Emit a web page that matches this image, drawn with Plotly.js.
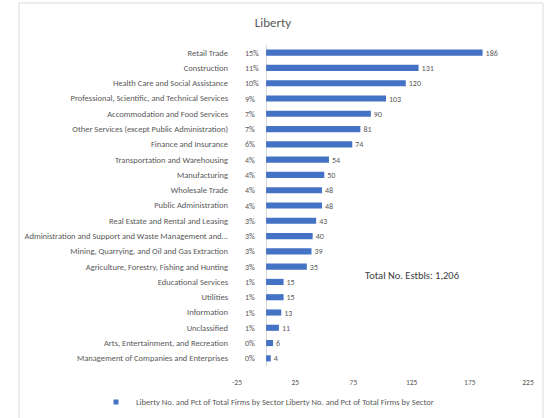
<!DOCTYPE html>
<html>
<head>
<meta charset="utf-8">
<script src="https://cdn.plot.ly/plotly-3.0.1.min.js"></script>
<style>html,body{margin:0;padding:0;background:#fff;}#chart{width:546px;height:418px;}</style>
</head>
<body>
<div id="chart"></div>
<script>
const chartTitle = "Liberty";
const sectors = [
  "Retail Trade",
  "Construction",
  "Health Care and Social Assistance",
  "Professional, Scientific, and Technical Services",
  "Accommodation and Food Services",
  "Other Services (except Public Administration)",
  "Finance and Insurance",
  "Transportation and Warehousing",
  "Manufacturing",
  "Wholesale Trade",
  "Public Administration",
  "Real Estate and Rental and Leasing",
  "Administration and Support and Waste Management and...",
  "Mining, Quarrying, and Oil and Gas Extraction",
  "Agriculture, Forestry, Fishing and Hunting",
  "Educational Services",
  "Utilities",
  "Information",
  "Unclassified",
  "Arts, Entertainment, and Recreation",
  "Management of Companies and Enterprises"
];
const firmCounts = [186, 131, 120, 103, 90, 81, 74, 54, 50, 48, 48, 43, 40, 39, 35, 15, 15, 13, 11, 6, 4];
const pctLabels = ["15%","11%","10%","9%","7%","7%","6%","4%","4%","4%","4%","3%","3%","3%","3%","1%","1%","1%","1%","0%","0%"];
const xTicks = [-25, 25, 75, 125, 175, 225];
const seriesName = "Liberty No. and Pct of Total Firms by Sector Liberty No. and Pct of Total Firms by Sector";
const totalNote = "Total No. Estbls: 1,206";

const FONT = "Calibri, Carlito, 'Liberation Sans Narrow', 'Liberation Sans', Arial, sans-serif";
const GREY = "#595959";
const BLUE = "#4472C4";

const W = 546, H = 418;
const plotL = 237, plotR = 528, plotT = 45, plotB = 366;
const pw = plotR - plotL, ph = plotB - plotT;
const px = v => (v - plotL) / pw;
const py = v => (plotB - v) / ph;

const barTrace = {
  type: "bar",
  orientation: "h",
  y: sectors,
  x: firmCounts,
  name: seriesName,
  showlegend: false,
  marker: {color: BLUE},
  width: 0.4,
  text: firmCounts.map(String),
  textposition: "outside",
  constraintext: "none",
  cliponaxis: false,
  textfont: {family: FONT, size: 8, color: GREY},
  hoverinfo: "x+y"
};

// legend entry for the series (no data of its own)
const legendTrace = {
  type: "scatter", mode: "markers", x: [null], y: [null],
  name: seriesName, showlegend: true,
  marker: {symbol: "square", size: 5, color: BLUE}
};

const annotations = sectors.map((s, i) => ({
  xref: "x", yref: "y", x: -20, y: s, text: pctLabels[i],
  showarrow: false, xanchor: "left", yanchor: "middle",
  font: {family: FONT, size: 8, color: GREY}
}));
annotations.push({
  xref: "x", yref: "y", x: 125, y: 14.55, text: totalNote,
  showarrow: false, xanchor: "center", yanchor: "middle",
  font: {family: FONT, size: 10.5, color: "#404040"}
});

const layout = {
  width: W, height: H,
  margin: {l: plotL, r: W - plotR, t: plotT, b: H - plotB, pad: 0},
  paper_bgcolor: "#fff", plot_bgcolor: "#fff",
  font: {family: FONT, color: GREY},
  title: {text: chartTitle, x: 0.5, xref: "container", y: 1 - 22 / H, yref: "container",
          xanchor: "center", yanchor: "middle", font: {family: FONT, size: 13, color: GREY}},
  xaxis: {range: [-25, 225], tickvals: xTicks, ticktext: xTicks.map(String),
          showgrid: false, zeroline: true, zerolinecolor: "#d9d9d9", zerolinewidth: 1,
          showline: false, ticks: "", ticklabelstandoff: 10,
          tickfont: {family: FONT, size: 7.5, color: GREY}, fixedrange: true},
  yaxis: {type: "category", autorange: "reversed", showgrid: false, zeroline: false,
          showline: false, ticks: "", ticklabelstandoff: 8,
          tickfont: {family: FONT, size: 8.5, color: GREY}, fixedrange: true},
  showlegend: true,
  legend: {orientation: "h", xref: "container", yref: "container", x: 96 / W, y: 1 - 402 / H,
           xanchor: "left", yanchor: "middle", itemsizing: "trace",
           font: {family: FONT, size: 8.5, color: GREY}, bgcolor: "rgba(0,0,0,0)"},
  annotations: annotations,
  shapes: [{type: "rect", xref: "paper", yref: "paper",
            x0: px(19), x1: px(543), y0: py(425), y1: py(3),
            line: {color: "#d9d9d9", width: 1}, fillcolor: "rgba(0,0,0,0)", layer: "below"}]
};

Plotly.newPlot("chart", [barTrace, legendTrace], layout, {displayModeBar: false, staticPlot: true});
</script>
</body>
</html>
